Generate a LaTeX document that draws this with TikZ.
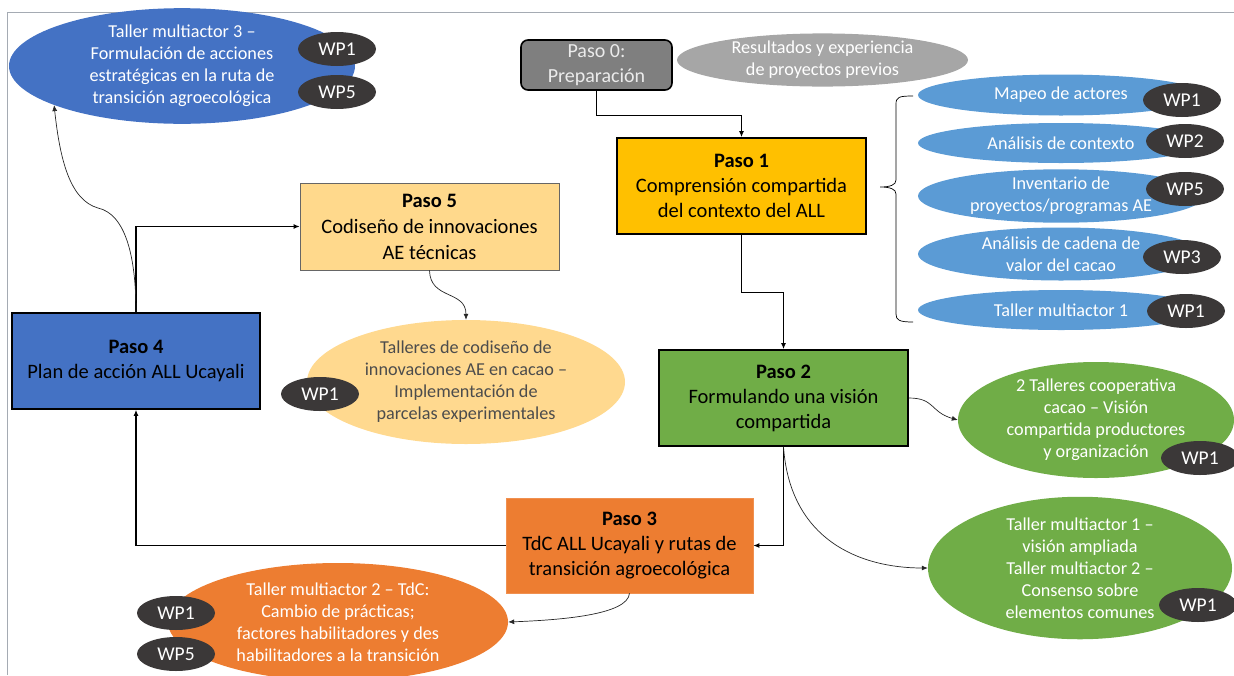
\documentclass[tikz,border=0pt]{standalone}
\usepackage{fontspec}
\setmainfont{Carlito}
\usetikzlibrary{shapes.geometric, arrows.meta}

\definecolor{azul}{HTML}{4472C4}
\definecolor{celeste}{HTML}{5B9BD5}
\definecolor{verde}{HTML}{70AD47}
\definecolor{naranja}{HTML}{ED7D31}
\definecolor{oro}{HTML}{FFC000}
\definecolor{crema}{HTML}{FFD98F}
\definecolor{arena}{HTML}{FFD98C}
\definecolor{gris}{HTML}{7F7F7F}
\definecolor{grisclaro}{HTML}{A6A6A6}
\definecolor{oscuro}{HTML}{3B3838}
\definecolor{marco}{HTML}{A5ABB3}

\begin{document}
\begin{tikzpicture}[x=1pt, y=-1pt, >={Latex[length=6pt,width=5pt]},
  paso/.style = {draw, line width=1.6pt, minimum width=249pt, minimum height=96pt, align=center, font=\fontsize{20.5}{25}\selectfont},
  oval/.style = {ellipse, inner sep=0pt, align=center, text=white, font=\fontsize{18.2}{22}\selectfont},
  wp/.style = {ellipse, fill=oscuro, text=white, minimum width=78pt, minimum height=34pt, inner sep=0pt, font=\fontsize{19.5}{20}\selectfont},
  flecha/.style = {->, line width=1.3pt},
  curva/.style = {->, line width=0.7pt, black!85}]
\useasboundingbox (0,0) rectangle (1234,675);
\clip (0,0) rectangle (1234,675);
\draw[marco, line width=1pt] (7,675) -- (7,12) -- (1234,12);

% pasos
\node[paso, fill=gris, text=white!92!black, rounded corners=7pt, minimum width=151pt, minimum height=50pt, font=\fontsize{20}{25}\selectfont] (p0) at (596.5,65) {Paso 0:\\Preparación};
\node[paso, fill=oro] (p1) at (741.5,186) {\textbf{Paso 1}\\Comprensión compartida\\del contexto del ALL};
\node[paso, fill=verde] (p2) at (783.5,398) {\textbf{Paso 2}\\Formulando una visión\\compartida};
\node[paso, fill=naranja, draw=naranja!85!white, line width=0.5pt, minimum width=247pt, minimum height=95pt] (p3) at (629.5,545.5) {\textbf{Paso 3}\\TdC ALL Ucayali y rutas de\\transición agroecológica};
\node[paso, fill=azul, minimum width=248pt] (p4) at (136,361) {\textbf{Paso 4}\\Plan de acción ALL Ucayali};
\node[paso, fill=arena, draw=black!60, line width=0.6pt, minimum width=259pt, minimum height=87pt, font=\fontsize{20.5}{26}\selectfont] (p5) at (429.5,226.5) {\textbf{Paso 5}\\Codiseño de innovaciones\\AE técnicas};

% actividades
\node[oval, fill=grisclaro, minimum width=291pt, minimum height=48pt] (res) at (822.5,60) {Resultados y experiencia\\de proyectos previos};
\node[oval, fill=azul, minimum width=346pt, minimum height=104pt] (ta) at (182,66) {Taller multiactor 3 –\\Formulación de acciones\\estratégicas en la ruta de\\transición agroecológica};
\node[wp] (ta1) at (337,49) {WP1};
\node[wp] (ta5) at (337,92) {WP5};

\node[oval, fill=celeste, minimum width=286pt, minimum height=41pt] (r1) at (1061,95) {Mapeo de actores};
\node[oval, fill=celeste, minimum width=286pt, minimum height=40pt] (r2) at (1061,143) {Análisis de contexto};
\node[oval, fill=celeste, minimum width=286pt, minimum height=53pt] (r3) at (1061,196) {Inventario de\\proyectos/programas AE};
\node[oval, fill=celeste, minimum width=286pt, minimum height=53pt] (r4) at (1061,254) {Análisis de cadena de\\valor del cacao};
\node[oval, fill=celeste, minimum width=286pt, minimum height=40pt] (r5) at (1061,310) {Taller multiactor 1};
\node[wp] (r1w) at (1182,100) {WP1};
\node[wp] (r2w) at (1185,141) {WP2};
\node[wp] (r3w) at (1185,189) {WP5};
\node[wp] (r4w) at (1182,257) {WP3};
\node[wp] (r5w) at (1186,311) {WP1};
\draw[line width=0.7pt] (913,96) .. controls (899,96) and (896,97) .. (896,104) -- (896,180)
  .. controls (896,185) and (890,187) .. (880,187) .. controls (890,187) and (896,189) .. (896,194)
  -- (896,314) .. controls (896,320) and (899,322) .. (913,322);

\node[oval, fill=crema, text=black!70, minimum width=318pt, minimum height=124pt] (lo) at (466,382) {Talleres de codiseño de\\innovaciones AE en cacao –\\Implementación de\\parcelas experimentales};
\node[wp] (low) at (320,394) {WP1};

\node[oval, fill=verde, minimum width=276pt, minimum height=116pt] (ga) at (1096,420) {2 Talleres cooperativa\\cacao – Visión\\compartida productores\\y organización};
\node[wp] (gaw) at (1200,458) {WP1};
\node[oval, fill=verde, minimum width=304pt, minimum height=128pt] (gb) at (1080,568) {Taller multiactor 1 –\\visión ampliada\\Taller multiactor 2 –\\Consenso sobre\\elementos comunes};
\node[wp] (gbw) at (1198,605) {WP1};

\node[oval, fill=naranja, minimum width=340pt, minimum height=118pt] (oe) at (338,622) {Taller multiactor 2 – TdC:\\Cambio de prácticas;\\factores habilitadores y des\\habilitadores a la transición};
\node[wp] (oe1) at (176,613) {WP1};
\node[wp] (oe5) at (176,654) {WP5};

% flechas
\draw[flecha] (p0.south) -- ++(0,25) -| (p1.north);
\draw[flecha] (p1.south) -- ++(0,58) -| (p2.north);
\draw[flecha] (p2.south) |- (p3.east);
\draw[flecha] (p3.west) -| (p4.south);
\draw[flecha] (p4.north) |- (p5.west);
\draw[curva] (p4.north) .. controls (136,255) and (125,214) .. (98,208) .. controls (70,200) and (60,160) .. (ta.197);
\draw[curva] (p5.south) .. controls (430,300) and (466,290) .. (lo.north);
\draw[curva] (p2.east) .. controls (935,398) and (930,412) .. (ga.west);
\draw[curva] (p2.south) .. controls (790,540) and (860,568) .. (gb.west);
\draw[curva] (p3.south) .. controls (628,615) and (560,620) .. (oe.east);
\end{tikzpicture}
\end{document}
